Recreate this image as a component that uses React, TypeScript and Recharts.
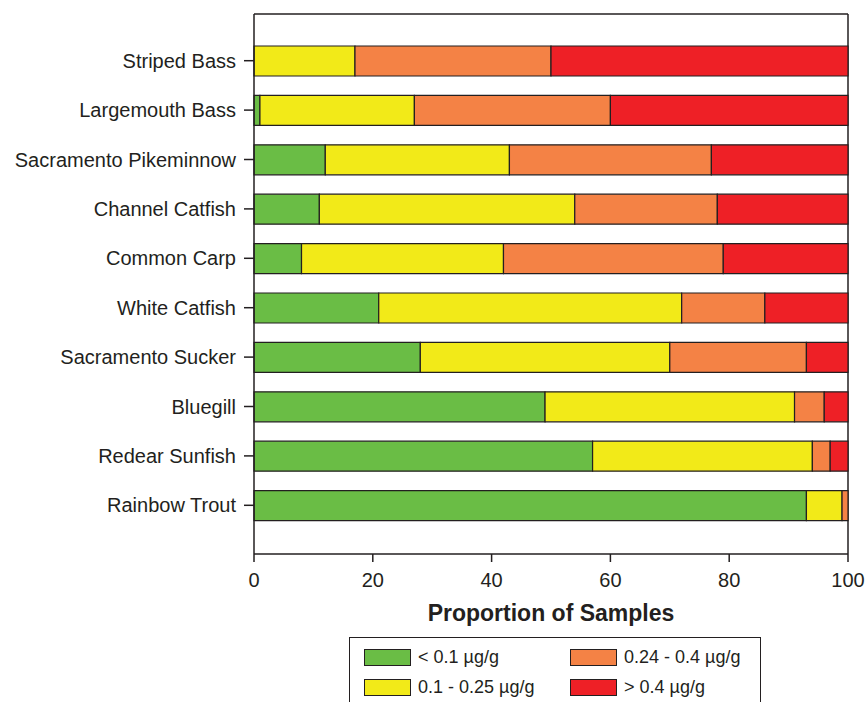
import { Bar, BarChart, CartesianGrid, XAxis, YAxis } from 'recharts'

const species = [
  'Striped Bass',
  'Largemouth Bass',
  'Sacramento Pikeminnow',
  'Channel Catfish',
  'Common Carp',
  'White Catfish',
  'Sacramento Sucker',
  'Bluegill',
  'Redear Sunfish',
  'Rainbow Trout',
]

// proportion of samples (%) in each mercury class
const below01 = [0, 1, 12, 11, 8, 21, 28, 49, 57, 93]
const from01to025 = [17, 26, 31, 43, 34, 51, 42, 42, 37, 6]
const from024to04 = [33, 33, 34, 24, 37, 14, 23, 5, 3, 1]
const above04 = [50, 40, 23, 22, 21, 14, 7, 4, 3, 0]

const xTicks = [0, 20, 40, 60, 80, 100]

const series = [
  { key: 'low', label: '< 0.1 µg/g', color: '#6ABD45', values: below01 },
  { key: 'mid', label: '0.1 - 0.25 µg/g', color: '#F2EA18', values: from01to025 },
  { key: 'high', label: '0.24 - 0.4 µg/g', color: '#F48245', values: from024to04 },
  { key: 'top', label: '> 0.4 µg/g', color: '#EE2026', values: above04 },
]

const INK = '#231F20'

const data = species.map((name, i) => {
  const row: Record<string, string | number> = { name }
  for (const s of series) row[s.key] = s.values[i]
  return row
})

type GridArgs = { offset: { top: number; left: number; width: number; height: number } }

// frame on top and right of the plot area (left/bottom come from the axes)
const topEdge = ({ offset }: GridArgs) => [offset.top]
const rightEdge = ({ offset }: GridArgs) => [offset.left + offset.width]

function LegendBox() {
  return (
    <div
      style={{
        position: 'absolute',
        left: 349,
        top: 637,
        width: 412,
        height: 80,
        border: `1.5px solid ${INK}`,
        boxSizing: 'border-box',
      }}
    >
      {series.map((s, i) => {
        const col = Math.floor(i / 2)
        const row = i % 2
        return (
          <div
            key={s.key}
            style={{
              position: 'absolute',
              left: 14 + col * 206,
              top: 10 + row * 30,
              display: 'flex',
              alignItems: 'center',
              height: 19,
            }}
          >
            <span
              style={{
                display: 'inline-block',
                width: 47,
                height: 17,
                background: s.color,
                border: `1.5px solid ${INK}`,
                boxSizing: 'border-box',
                marginRight: 7,
              }}
            />
            <span style={{ fontSize: 18, color: INK, whiteSpace: 'nowrap' }}>{s.label}</span>
          </div>
        )
      })}
    </div>
  )
}

export default function App() {
  return (
    <div
      style={{
        position: 'absolute',
        left: 0,
        top: 0,
        width: 867,
        height: 702,
        overflow: 'hidden',
        background: '#fff',
        fontFamily: '"Liberation Sans", Arial, sans-serif',
      }}
    >
      <BarChart
        width={867}
        height={702}
        data={data}
        layout="vertical"
        barSize={30}
        margin={{ top: 14, right: 19, bottom: 68, left: 0 }}
      >
        <CartesianGrid
          stroke={INK}
          strokeWidth={1.5}
          horizontalCoordinatesGenerator={topEdge}
          verticalCoordinatesGenerator={rightEdge}
        />
        <XAxis
          type="number"
          domain={[0, 100]}
          ticks={xTicks}
          height={80}
          tickSize={8}
          tickMargin={11}
          tick={{ fontSize: 20, fill: INK }}
          axisLine={{ stroke: INK, strokeWidth: 1.5 }}
          tickLine={{ stroke: INK, strokeWidth: 1.5 }}
          label={{
            value: 'Proportion of Samples',
            position: 'insideBottom',
            offset: 13,
            fontSize: 23,
            fontWeight: 'bold',
            fill: INK,
          }}
        />
        <YAxis
          type="category"
          dataKey="name"
          width={254}
          interval={0}
          padding={{ top: 22, bottom: 24 }}
          tickSize={10}
          tickMargin={8}
          tick={{ fontSize: 20, fill: INK }}
          axisLine={{ stroke: INK, strokeWidth: 1.5 }}
          tickLine={{ stroke: INK, strokeWidth: 1.5 }}
        />
        {series.map((s) => (
          <Bar
            key={s.key}
            dataKey={s.key}
            stackId="hg"
            fill={s.color}
            stroke={INK}
            strokeWidth={1.2}
            isAnimationActive={false}
          />
        ))}
      </BarChart>
      <LegendBox />
    </div>
  )
}
